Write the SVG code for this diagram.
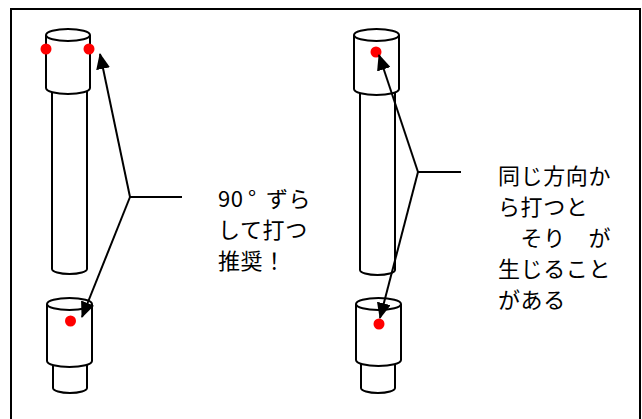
<svg xmlns="http://www.w3.org/2000/svg" width="642" height="419" viewBox="0 0 642 419">
  <style>
    .pipe { fill: #fff; stroke: #000; stroke-width: 2; }
    .dot { fill: #f00; }
    .line { fill: none; stroke: #000; stroke-width: 2; }
    .label { font-family: "Noto Sans CJK JP", "Noto Sans", sans-serif; font-size: 22px; letter-spacing: 0.6px; fill: #000; }
  </style>
  <defs>
    <marker id="head" markerUnits="userSpaceOnUse" markerWidth="16" markerHeight="14" refX="15" refY="7" orient="auto">
      <path d="M0,0 L16,7 L0,14 Z" fill="#000"/>
    </marker>
  </defs>

  <rect x="0" y="0" width="642" height="419" fill="#fff"/>
  <rect x="11" y="9" width="629" height="414" fill="none" stroke="#000" stroke-width="2"/>

  <!-- left: long tube with cap -->
  <g id="left-tube">
    <path class="pipe" d="M52,90 L52,269 A17.5,5 0 0 0 87,269 L87,90 Z"/>
    <path class="pipe" d="M46,35 L46,88 A22,6 0 0 0 90,88 L90,35"/>
    <ellipse class="pipe" cx="68" cy="35" rx="22" ry="6"/>
    <circle class="dot" cx="46" cy="49" r="5.5"/>
    <circle class="dot" cx="89" cy="49" r="5.5"/>
  </g>

  <!-- left: short fitting -->
  <g id="left-fitting">
    <path class="pipe" d="M53,360 L53,388 A17,5 0 0 0 87,388 L87,360 Z"/>
    <path class="pipe" d="M47,304 L47,361 A22.5,6 0 0 0 92,361 L92,304"/>
    <ellipse class="pipe" cx="69.5" cy="304" rx="22.5" ry="6"/>
    <circle class="dot" cx="70.5" cy="321" r="5.5"/>
  </g>

  <!-- right: long tube with cap -->
  <g id="right-tube">
    <path class="pipe" d="M360,90 L360,270 A17.5,5 0 0 0 395,270 L395,90 Z"/>
    <path class="pipe" d="M354,35 L354,89 A22.5,6 0 0 0 399,89 L399,35"/>
    <ellipse class="pipe" cx="376.5" cy="35" rx="22.5" ry="6"/>
    <circle class="dot" cx="376" cy="52" r="5.5"/>
  </g>

  <!-- right: short fitting -->
  <g id="right-fitting">
    <path class="pipe" d="M361,360 L361,388 A17,5 0 0 0 395,388 L395,360 Z"/>
    <path class="pipe" d="M356,304 L356,360 A22.5,6 0 0 0 401,360 L401,304"/>
    <ellipse class="pipe" cx="378.5" cy="304" rx="22.5" ry="6"/>
    <circle class="dot" cx="379" cy="324" r="5.5"/>
  </g>

  <!-- leader lines -->
  <g id="connectors">
    <path class="line" d="M182,197 L130,197"/>
    <path class="line" d="M130,197 L100,54" marker-end="url(#head)"/>
    <path class="line" d="M130,197 L82,317" marker-end="url(#head)"/>
    <path class="line" d="M461,172 L418,172"/>
    <path class="line" d="M418,172 L379,55" marker-end="url(#head)"/>
    <path class="line" d="M418,172 L380,318" marker-end="url(#head)"/>
  </g>

  <g id="note-left">
    <text class="label" x="218" y="207">90<tspan x="248">°</tspan><tspan x="266">ずら</tspan><tspan x="218" dy="31">して打つ</tspan><tspan x="218" dy="31">推奨！</tspan></text>
  </g>

  <g id="note-right">
    <text class="label" x="498" y="184">同じ方向か<tspan x="498" dy="31">ら打つと</tspan><tspan x="498" dy="31">　そり　が</tspan><tspan x="498" dy="31">生じること</tspan><tspan x="498" dy="31">がある</tspan></text>
  </g>
</svg>
